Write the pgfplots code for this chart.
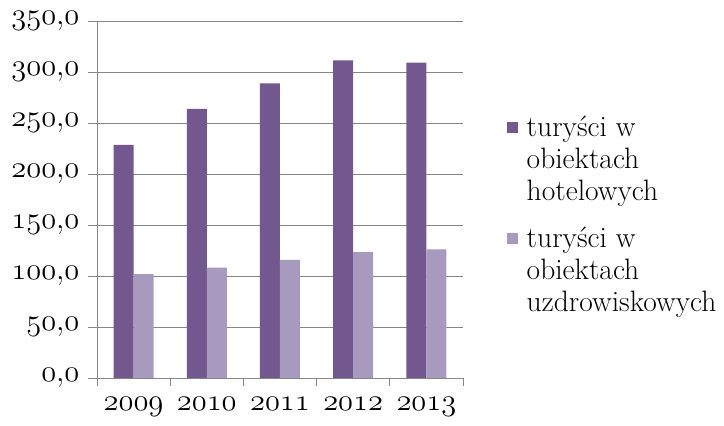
\documentclass[border=0pt]{standalone}
\usepackage{fix-cm}
\usepackage{fontspec}
\usepackage{pgfplots}
\pgfplotsset{compat=1.18}
\definecolor{hotel}{RGB}{114,88,142}
\definecolor{uzdr}{RGB}{168,154,190}
\definecolor{gridgray}{RGB}{134,134,134}
% old-style figures from the math italic font
\newcommand\osf[1]{$\mathnormal{#1}$}
\newcommand\tickf{\fontsize{30.5}{34}\selectfont}
\newcommand\legf{\fontsize{29.5}{32}\selectfont}
\begin{document}
\begin{tikzpicture}
\begin{axis}[
  at={(0,0)}, anchor=south west,
  scale only axis, width=366pt, height=357pt,
  xmin=-0.5, xmax=4.5, ymin=0, ymax=350,
  ybar=0pt, bar width=20pt,
  axis lines*=left,
  axis line style={gridgray, line width=0.8pt},
  ytick={0,50,...,350},
  yticklabels={\osf{0{,}0},\osf{50{,}0},\osf{100{,}0},\osf{150{,}0},
    \osf{200{,}0},\osf{250{,}0},\osf{300{,}0},\osf{350{,}0}},
  ymajorgrids, grid style={gridgray, line width=0.8pt},
  xtick={0,...,4},
  xticklabels={\osf{2009},\osf{2010},\osf{2011},\osf{2012},\osf{2013}},
  minor xtick={-0.5,0.5,...,4.5},
  major x tick style={draw=none},
  minor x tick style={gridgray, line width=0.8pt},
  y tick style={gridgray, line width=0.8pt},
  tick align=outside,
  major tick length=9pt, minor tick length=8pt,
  tick label style={font=\tickf, text=black},
  yticklabel style={xshift=-5pt},
  xticklabel style={yshift=-7pt},
  legend style={at={(1.134,0.74)}, anchor=north west, draw=none, fill=none,
    font=\legf, inner sep=0pt, row sep=21pt,
    nodes={inner xsep=3.5pt},
    cells={anchor=west, align=left}},
  legend image code/.code={
    \path[fill=none, draw=none] (0pt,-5.5pt) rectangle (11pt,5.5pt);
    \fill[#1, overlay] (-5pt,26.5pt) rectangle (6pt,37.5pt);},
]
\addplot[fill=hotel, draw=none] coordinates {
  (0,228.5) (1,263.8) (2,288.9) (3,311.5) (4,309.2)};
\addlegendentry{turyści w\\obiektach\\hotelowych}
\addplot[fill=uzdr, draw=none] coordinates {
  (0,101.9) (1,108.3) (2,115.9) (3,123.4) (4,126.0)};
\addlegendentry{turyści w\\obiektach\\uzdrowiskowych}
\end{axis}
\pgfresetboundingbox
\useasboundingbox (-97pt,-48pt) rectangle (627pt,378pt);
\end{tikzpicture}
\end{document}
